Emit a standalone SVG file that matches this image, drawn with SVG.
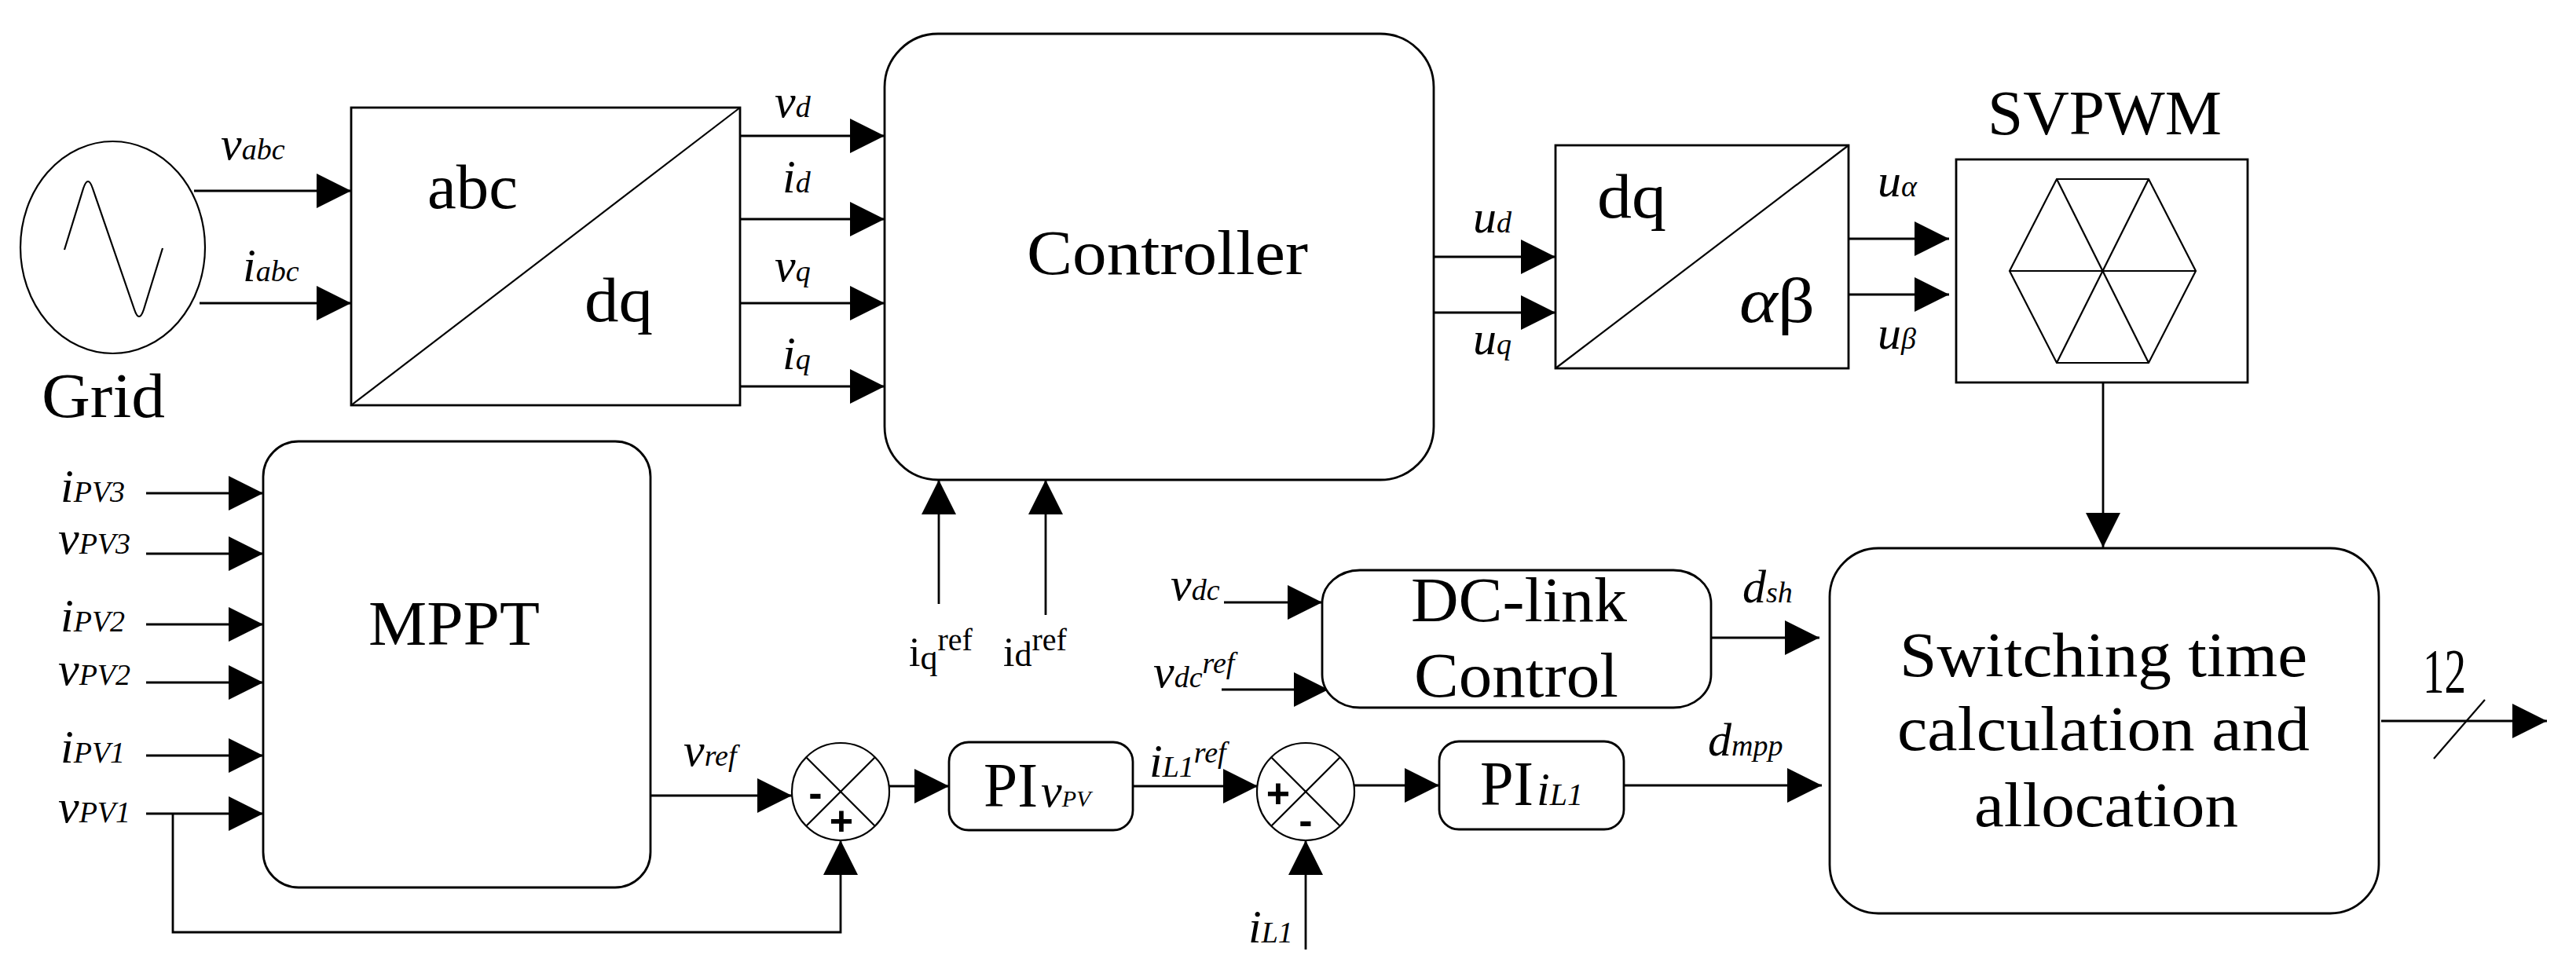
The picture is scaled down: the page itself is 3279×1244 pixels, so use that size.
<svg xmlns="http://www.w3.org/2000/svg" width="3279" height="1244" viewBox="0 0 3279 1244">
<defs>
<marker id="a" viewBox="0 0 44 44" refX="44" refY="22" markerWidth="44" markerHeight="44" markerUnits="userSpaceOnUse" orient="auto"><path d="M0,0 L44,22 L0,44 z" fill="#000"/></marker>
</defs>
<style>
.b{fill:#fff;stroke:#000;stroke-width:2.8}
.n{fill:none;stroke:#000;stroke-width:2.2}
.l{fill:none;stroke:#000;stroke-width:2.8;marker-end:url(#a)}
.t{font-family:"Liberation Serif",serif;font-size:80px;fill:#000}
.v{font-family:"Liberation Serif",serif;font-style:italic;font-size:60px;fill:#000}
.s{font-size:38px}
.u{font-family:"Liberation Serif",serif;font-size:52px;fill:#000}
.g{font-family:"Liberation Sans",Arial,sans-serif;font-weight:bold;font-size:52px;fill:#000;text-anchor:middle}
</style>
<rect width="3279" height="1244" fill="#fff"/>

<g id="connectors">
<line class="l" x1="247" y1="243" x2="447" y2="243"/>
<line class="l" x1="254" y1="386" x2="447" y2="386"/>
<line class="l" x1="931" y1="173" x2="1126" y2="173"/>
<line class="l" x1="942" y1="279" x2="1126" y2="279"/>
<line class="l" x1="942" y1="386" x2="1126" y2="386"/>
<line class="l" x1="942" y1="492" x2="1126" y2="492"/>
<line class="l" x1="1825" y1="327" x2="1980" y2="327"/>
<line class="l" x1="1825" y1="398" x2="1980" y2="398"/>
<line class="l" x1="2353" y1="304" x2="2481" y2="304"/>
<line class="l" x1="2353" y1="375" x2="2481" y2="375"/>
<line class="l" x1="2677" y1="487" x2="2677" y2="697"/>
<line class="l" x1="1195" y1="769" x2="1195" y2="611"/>
<line class="l" x1="1331" y1="783" x2="1331" y2="611"/>
<line class="l" x1="186" y1="628" x2="335" y2="628"/>
<line class="l" x1="186" y1="705" x2="335" y2="705"/>
<line class="l" x1="186" y1="795" x2="335" y2="795"/>
<line class="l" x1="186" y1="869" x2="335" y2="869"/>
<line class="l" x1="186" y1="962" x2="335" y2="962"/>
<line class="l" x1="186" y1="1036" x2="335" y2="1036"/>
<polyline class="l" points="220,1036 220,1187 1070,1187 1070,1070"/>
<line class="l" x1="828" y1="1013" x2="1008" y2="1013"/>
<line class="l" x1="1132" y1="1001" x2="1208" y2="1001"/>
<line class="l" x1="1442" y1="1001" x2="1601" y2="1001"/>
<line class="l" x1="1662" y1="1209" x2="1662" y2="1070"/>
<line class="l" x1="1723" y1="1000" x2="1832" y2="1000"/>
<line class="l" x1="2067" y1="1000" x2="2319" y2="1000"/>
<line class="l" x1="1558" y1="767" x2="1683" y2="767"/>
<line class="l" x1="1555" y1="878" x2="1691" y2="878"/>
<line class="l" x1="2178" y1="812" x2="2316" y2="812"/>
<line class="l" x1="3031" y1="918" x2="3242" y2="918"/>
<line class="n" x1="3098" y1="966" x2="3163" y2="891"/>
</g>

<g id="grid">
<ellipse class="b" cx="143.5" cy="315" rx="117.5" ry="135" style="stroke-width:2.2"/>
<path class="n" d="M82,318 L106,240 Q112,222 118,240 L171,394 Q177,412 183,394 L207,316"/>
<text class="t" x="53" y="531" textLength="157" lengthAdjust="spacingAndGlyphs">Grid</text>
<text class="v" x="281" y="203">v<tspan class="s">abc</tspan></text>
<text class="v" x="309" y="358">i<tspan class="s">abc</tspan></text>
</g>

<g id="abc-dq">
<rect class="b" x="447" y="137" width="495" height="379"/>
<line class="n" x1="447" y1="516" x2="942" y2="137"/>
<text class="t" x="544" y="265" textLength="115" lengthAdjust="spacingAndGlyphs">abc</text>
<text class="t" x="744" y="409" textLength="87" lengthAdjust="spacingAndGlyphs">dq</text>
<text class="v" x="986" y="149">v<tspan class="s">d</tspan></text>
<text class="v" x="996" y="245">i<tspan class="s">d</tspan></text>
<text class="v" x="986" y="358">v<tspan class="s">q</tspan></text>
<text class="v" x="996" y="470">i<tspan class="s">q</tspan></text>
</g>

<g id="controller">
<rect class="b" x="1126" y="43" width="699" height="568" rx="68" ry="68"/>
<text class="t" x="1307" y="349" textLength="358" lengthAdjust="spacingAndGlyphs">Controller</text>
<text class="v" x="1875" y="296">u<tspan class="s">d</tspan></text>
<text class="v" x="1875" y="451">u<tspan class="s">q</tspan></text>
<text class="u" x="1157" y="848">i<tspan font-size="44" dy="4">q</tspan><tspan font-size="40" dy="-24">ref</tspan></text>
<text class="u" x="1277" y="848">i<tspan font-size="44" dy="0">d</tspan><tspan font-size="40" dy="-20">ref</tspan></text>
</g>

<g id="dq-ab">
<rect class="b" x="1980" y="185" width="373" height="284"/>
<line class="n" x1="1980" y1="469" x2="2353" y2="185"/>
<text class="t" x="2033" y="277" textLength="88" lengthAdjust="spacingAndGlyphs">dq</text>
<text class="t" x="2214" y="410" textLength="96" lengthAdjust="spacingAndGlyphs"><tspan font-style="italic">α</tspan>β</text>
<text class="v" x="2390" y="250">u<tspan class="s">α</tspan></text>
<text class="v" x="2390" y="444">u<tspan class="s">β</tspan></text>
</g>

<g id="svpwm">
<rect class="b" x="2490" y="203" width="371" height="284"/>
<polygon class="n" points="2618,228 2735,228 2795,345 2735,462 2618,462 2558,345"/>
<line class="n" x1="2558" y1="345" x2="2795" y2="345"/>
<line class="n" x1="2618" y1="228" x2="2735" y2="462"/>
<line class="n" x1="2735" y1="228" x2="2618" y2="462"/>
<text class="t" x="2530" y="171" textLength="298" lengthAdjust="spacingAndGlyphs">SVPWM</text>
</g>

<g id="mppt">
<rect class="b" x="335" y="562" width="493" height="568" rx="45" ry="45"/>
<text class="t" x="469" y="821" textLength="218" lengthAdjust="spacingAndGlyphs">MPPT</text>
<text class="v" x="77" y="639">i<tspan class="s">PV3</tspan></text>
<text class="v" x="74" y="705">v<tspan class="s">PV3</tspan></text>
<text class="v" x="77" y="804">i<tspan class="s">PV2</tspan></text>
<text class="v" x="74" y="872">v<tspan class="s">PV2</tspan></text>
<text class="v" x="77" y="971">i<tspan class="s">PV1</tspan></text>
<text class="v" x="74" y="1047">v<tspan class="s">PV1</tspan></text>
<text class="v" x="870" y="975">v<tspan class="s">ref</tspan></text>
</g>

<g id="sum1">
<circle class="b" cx="1070" cy="1008" r="62" style="stroke-width:2.2"/>
<line class="n" x1="1026" y1="964" x2="1114" y2="1052"/>
<line class="n" x1="1114" y1="964" x2="1026" y2="1052"/>
<text class="g" x="1038" y="1027">-</text>
<text class="g" x="1071" y="1063">+</text>
</g>

<g id="pi-vpv">
<rect class="b" x="1208" y="945" width="234" height="112" rx="25" ry="25"/>
<text class="t" x="1252" y="1027" font-size="68" textLength="69" lengthAdjust="spacingAndGlyphs">PI</text>
<text class="v" x="1325" y="1027">v<tspan font-size="30">PV</tspan></text>
<text class="v" x="1463" y="989">i<tspan class="s">L1</tspan><tspan class="s" dy="-18">ref</tspan></text>
</g>

<g id="sum2">
<circle class="b" cx="1662" cy="1008" r="62" style="stroke-width:2.2"/>
<line class="n" x1="1618" y1="964" x2="1706" y2="1052"/>
<line class="n" x1="1706" y1="964" x2="1618" y2="1052"/>
<text class="g" x="1627" y="1028">+</text>
<text class="g" x="1662" y="1062">-</text>
<text class="v" x="1589" y="1200">i<tspan class="s">L1</tspan></text>
</g>

<g id="pi-il1">
<rect class="b" x="1832" y="944" width="235" height="112" rx="25" ry="25"/>
<text class="t" x="1884" y="1025" font-size="68" textLength="68" lengthAdjust="spacingAndGlyphs">PI</text>
<text class="v" x="1956" y="1025">i<tspan font-size="40">L1</tspan></text>
</g>

<g id="dclink">
<rect class="b" x="1683" y="726" width="495" height="175" rx="48" ry="42"/>
<text class="t" x="1796" y="791" textLength="275" lengthAdjust="spacingAndGlyphs">DC-link</text>
<text class="t" x="1800" y="887" textLength="260" lengthAdjust="spacingAndGlyphs">Control</text>
<text class="v" x="1490" y="764">v<tspan class="s">dc</tspan></text>
<text class="v" x="1468" y="875">v<tspan class="s">dc</tspan><tspan class="s" dy="-18">ref</tspan></text>
</g>

<g id="switching">
<rect class="b" x="2329" y="698" width="699" height="465" rx="62" ry="62"/>
<text class="t" x="2418" y="861" textLength="519" lengthAdjust="spacingAndGlyphs">Switching time</text>
<text class="t" x="2415" y="955" textLength="525" lengthAdjust="spacingAndGlyphs">calculation and</text>
<text class="t" x="2513" y="1052" textLength="336" lengthAdjust="spacingAndGlyphs">allocation</text>
<text class="v" x="2218" y="767">d<tspan class="s">sh</tspan></text>
<text class="v" x="2174" y="962">d<tspan class="s">mpp</tspan></text>
<text class="t" x="3084" y="882" font-size="64" textLength="55" lengthAdjust="spacingAndGlyphs">12</text>
</g>
</svg>
